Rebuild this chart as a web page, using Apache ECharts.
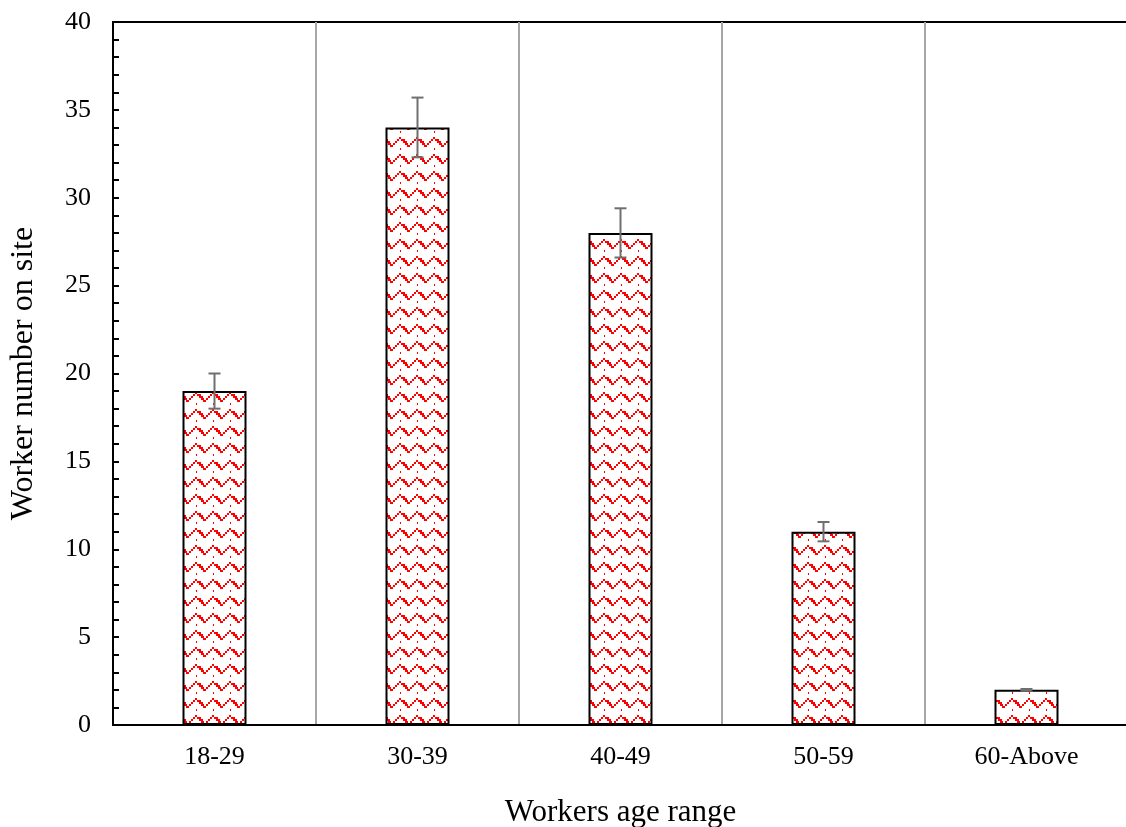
<!DOCTYPE html>
<html>
<head>
<meta charset="utf-8">
<script src="https://cdn.jsdelivr.net/npm/echarts@6/dist/echarts.min.js"></script>
<style>
  html, body { margin: 0; padding: 0; background: #fff; overflow: hidden; }
  #chart { width: 1126px; height: 827px; }
</style>
</head>
<body>
<div id="chart"></div>
<script>
// Age groups of workers and the head count in each group
const ageRanges = ['18-29', '30-39', '40-49', '50-59', '60-Above'];
const workerCounts = [19, 34, 28, 11, 2];
// Half-length of each error bar (same units as the counts)
const errorMargins = [1.0, 1.7, 1.4, 0.55, 0.05];
const yTicks = [0, 5, 10, 15, 20, 25, 30, 35, 40];

// Red zig-zag hatch used to fill the bars
function zigzagTile() {
  const size = 17;
  const c = document.createElement('canvas');
  c.width = size; c.height = size;
  const g = c.getContext('2d');
  g.fillStyle = '#fff';
  g.fillRect(0, 0, size, size);
  g.fillStyle = '#ff0000';
  // rising arm (narrow steps)
  [[0, 9], [2, 7], [4, 5], [6, 3]].forEach(p => g.fillRect(p[0], p[1], 2, 2));
  // peak
  g.fillRect(8, 1, 2, 2);
  // falling arm (wide dashes)
  [[10, 3], [12, 5], [14, 7]].forEach(p => g.fillRect(p[0], p[1], 4, 2));
  g.fillRect(16, 9, 1, 2);
  // small dot under the peak
  g.fillRect(9, 12, 1, 2);
  return c;
}

const chart = echarts.init(document.getElementById('chart'), null, { renderer: 'canvas' });
const serif = '"Liberation Serif", "Times New Roman", serif';

const option = {
  backgroundColor: '#fff',
  animation: false,
  grid: {
    left: 113, top: 22, width: 1015, height: 703,
    outerBoundsMode: 'none',
    containLabel: false,
    show: true, borderColor: '#000', borderWidth: 2, backgroundColor: 'transparent'
  },
  xAxis: {
    type: 'category',
    data: ageRanges,
    boundaryGap: true,
    name: 'Workers age range',
    nameLocation: 'middle',
    nameGap: 72,
    nameTextStyle: { fontFamily: serif, fontSize: 31, color: '#000' },
    axisLine: { lineStyle: { color: '#000', width: 2 } },
    axisTick: { show: false },
    axisLabel: { fontFamily: serif, fontSize: 26, color: '#000', margin: 19 },
    splitLine: { show: true, lineStyle: { color: '#a6a6a6', width: 2 } }
  },
  yAxis: {
    type: 'value',
    min: yTicks[0],
    max: yTicks[yTicks.length - 1],
    interval: 5,
    name: 'Worker number on site',
    nameLocation: 'middle',
    nameGap: 73,
    nameRotate: 90,
    nameTextStyle: { fontFamily: serif, fontSize: 32, color: '#000' },
    axisLine: { show: true, lineStyle: { color: '#000', width: 2 } },
    axisTick: { show: true, inside: true, length: 6, lineStyle: { color: '#000', width: 2 } },
    minorTick: { show: true, splitNumber: 5, length: 6, lineStyle: { color: '#000', width: 2 } },
    axisLabel: { fontFamily: serif, fontSize: 26, color: '#000', margin: 22 },
    splitLine: { show: false }
  },
  series: [
    {
      type: 'bar',
      data: workerCounts,
      barWidth: 64,
      itemStyle: {
        color: { image: zigzagTile(), repeat: 'repeat' },
        borderColor: '#000',
        borderWidth: 2
      },
      z: 2
    },
    {
      type: 'custom',
      z: 5,
      data: workerCounts.map((v, i) => [i, v - errorMargins[i], v + errorMargins[i]]),
      renderItem: function (params, api) {
        const lo = api.coord([api.value(0), api.value(1)]);
        const hi = api.coord([api.value(0), api.value(2)]);
        const half = 6;
        const st = { stroke: '#6f6f6f', lineWidth: 2 };
        return {
          type: 'group',
          children: [
            { type: 'line', shape: { x1: hi[0], y1: hi[1], x2: lo[0], y2: lo[1] }, style: st },
            { type: 'line', shape: { x1: hi[0] - half, y1: hi[1], x2: hi[0] + half, y2: hi[1] }, style: st },
            { type: 'line', shape: { x1: lo[0] - half, y1: lo[1], x2: lo[0] + half, y2: lo[1] }, style: st }
          ]
        };
      }
    }
  ]
};
chart.setOption(option);
</script>
</body>
</html>
